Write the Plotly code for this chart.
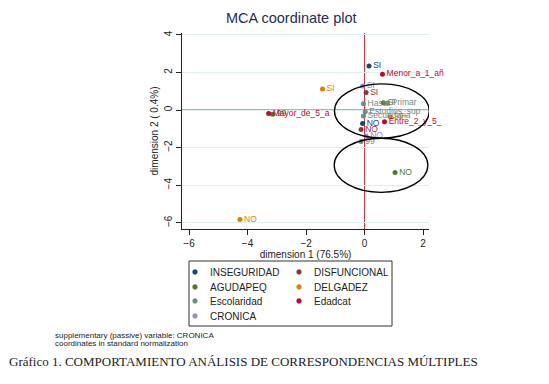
import plotly.graph_objects as go

# ---------------- data ----------------
variables = ["INSEGURIDAD", "DISFUNCIONAL", "AGUDAPEQ", "DELGADEZ", "Escolaridad", "Edadcat", "CRONICA"]
colors = ["#1a476f", "#90353b", "#55752f", "#e37e00", "#6e8e84", "#c10534", "#938dd2"]

inseguridad_labels = ["SI", "NO"]
inseguridad_x = [0.15, -0.07]
inseguridad_y = [2.34, -0.71]

disfuncional_labels = ["SI", "NO"]
disfuncional_x = [0.05, -0.12]
disfuncional_y = [0.94, -1.03]

agudapeq_labels = ["SI", "NO", "99"]
agudapeq_x = [0.64, 1.04, -3.14]
agudapeq_y = [0.39, -3.32, -0.22]

delgadez_labels = ["SI", "NO", "99"]
delgadez_x = [-1.44, -4.26, 0.87]
delgadez_y = [1.12, -5.82, -0.36]

escolaridad_labels = ["Hasta", "Primar", "Estudios_sup", "Secundaria", "99"]
escolaridad_x = [-0.04, 0.78, 0.02, -0.04, -0.12]
escolaridad_y = [0.34, 0.37, -0.09, -0.32, -1.68]

edadcat_labels = ["Menor_a_1_añ", "Entre_2_y_5_", "Mayor_de_5_a"]
edadcat_x = [0.61, 0.68, -3.28]
edadcat_y = [1.90, -0.62, -0.18]

cronica_labels = ["SI", "NO"]
cronica_x = [-0.07, 0.05]
cronica_y = [1.28, -1.38]

x_ticks = [-6, -4, -2, 0, 2]
y_ticks = [-6, -4, -2, 0, 2, 4]

# ellipses: (center x, center y, radius x, radius y)
ellipse_upper = (0.59, -0.05, 1.62, 1.44)
ellipse_lower = (0.56, -2.94, 1.60, 1.44)

series = [
    (inseguridad_labels, inseguridad_x, inseguridad_y),
    (disfuncional_labels, disfuncional_x, disfuncional_y),
    (agudapeq_labels, agudapeq_x, agudapeq_y),
    (delgadez_labels, delgadez_x, delgadez_y),
    (escolaridad_labels, escolaridad_x, escolaridad_y),
    (edadcat_labels, edadcat_x, edadcat_y),
    (cronica_labels, cronica_x, cronica_y),
]

# ---------------- layout geometry ----------------
W, H = 549, 384
L, R = 182, 429
T, B = 33, 229
PW, PH = R - L, B - T

def px_x(p):
    return (p - L) / PW

def px_y(p):
    return (B - p) / PH

fig = go.Figure()

for name, col, (labs, xs, ys) in zip(variables, colors, series):
    fig.add_trace(go.Scatter(
        x=xs, y=ys, text=labs, name=name,
        mode="markers+text", textposition="middle right",
        marker=dict(color=col, size=5),
        textfont=dict(color=col, size=8.5, family="Liberation Sans, Arial"),
        cliponaxis=False, showlegend=False,
    ))

shapes = []
for (cx, cy, rx, ry) in (ellipse_upper, ellipse_lower):
    shapes.append(dict(type="circle", xref="x", yref="y",
                       x0=cx - rx, x1=cx + rx, y0=cy - ry, y1=cy + ry,
                       line=dict(color="black", width=1.3), layer="above"))
# reference lines
shapes.append(dict(type="line", xref="x", yref="paper", x0=0, x1=0, y0=0, y1=1,
                   line=dict(color="#b8282e", width=1), layer="below"))
shapes.append(dict(type="line", xref="paper", yref="y", x0=0, x1=1, y0=0, y1=0,
                   line=dict(color="#b8282e", width=1), layer="below"))

annotations = [
    dict(text="MCA coordinate plot", xref="paper", yref="paper",
         x=px_x(291), y=px_y(18), xanchor="center", yanchor="middle",
         showarrow=False, font=dict(size=14.5, color="#1e2d53", family="Liberation Sans, Arial")),
    dict(text="supplementary (passive) variable: CRONICA", xref="paper", yref="paper",
         x=px_x(53), y=px_y(335), xanchor="left", yanchor="middle",
         showarrow=False, font=dict(size=8, color="#222", family="Liberation Sans Narrow, Liberation Sans, Arial")),
    dict(text="coordinates in standard normalization", xref="paper", yref="paper",
         x=px_x(53), y=px_y(343), xanchor="left", yanchor="middle",
         showarrow=False, font=dict(size=8, color="#222", family="Liberation Sans Narrow, Liberation Sans, Arial")),
    dict(text="Gráfico 1. COMPORTAMIENTO ANÁLISIS DE CORRESPONDENCIAS MÚLTIPLES", xref="paper", yref="paper",
         x=px_x(7), y=px_y(361), xanchor="left", yanchor="middle",
         showarrow=False, font=dict(size=13, color="#222", family="Liberation Serif, Times New Roman, serif")),
]

# ---------------- legend (drawn box, two columns, row-wise order) ----------------
leg_box = (189, 261, 392, 326)
leg_cols = [195, 299]
leg_rows = [272, 287, 301, 316]
shapes.append(dict(type="rect", xref="paper", yref="paper",
                   x0=px_x(leg_box[0]), x1=px_x(leg_box[2]),
                   y0=px_y(leg_box[3]), y1=px_y(leg_box[1]),
                   line=dict(color="#333", width=1), fillcolor="white", layer="below"))
rad = 2.4
for i, (name, col) in enumerate(zip(variables, colors)):
    cxp = leg_cols[i % 2]
    cyp = leg_rows[i // 2]
    shapes.append(dict(type="circle", xref="paper", yref="paper",
                       x0=px_x(cxp - rad), x1=px_x(cxp + rad),
                       y0=px_y(cyp + rad), y1=px_y(cyp - rad),
                       fillcolor=col, line=dict(color=col, width=0.5)))
    annotations.append(dict(text=name, xref="paper", yref="paper",
                            x=px_x(cxp + 13), y=px_y(cyp), xanchor="left", yanchor="middle",
                            showarrow=False,
                            font=dict(size=10, color="#222", family="Liberation Sans, Arial")))

fig.update_layout(
    width=W, height=H,
    margin=dict(l=L, r=W - R, t=T, b=H - B, autoexpand=False),
    paper_bgcolor="white", plot_bgcolor="white",
    shapes=shapes, annotations=annotations,
    showlegend=False,
    font=dict(family="Liberation Sans, Arial", color="#222"),
    xaxis=dict(
        range=[-6.24, 2.2], tickvals=x_ticks, ticks="outside", ticklen=5,
        tickcolor="#222", showline=True, linecolor="#222", linewidth=1,
        showgrid=False, zeroline=False, tickfont=dict(size=10),
        title=dict(text="dimension 1 (76.5%)", font=dict(size=10), standoff=2),
    ),
    yaxis=dict(
        range=[-6.33, 4.1], tickvals=y_ticks, ticks="outside", ticklen=5,
        tickcolor="#222", showline=True, linecolor="#222", linewidth=1,
        showgrid=True, gridcolor="#e1ecee", gridwidth=1, zeroline=False,
        tickangle=-90, tickfont=dict(size=10),
        title=dict(text="dimension 2 ( 0.4%)", font=dict(size=10), standoff=2),
    ),
)

fig.write_html("out.html", config={"displayModeBar": False},
               post_script="document.body.style.margin='0';")
